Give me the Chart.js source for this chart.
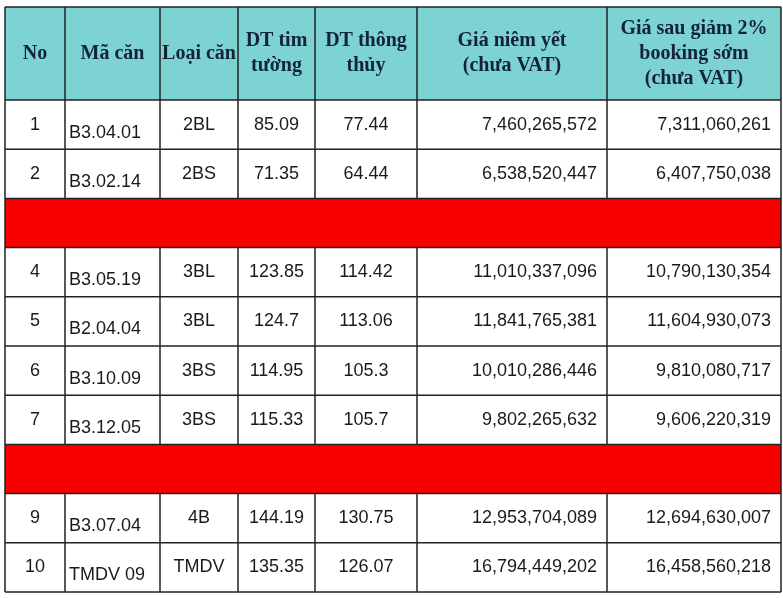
<!DOCTYPE html>
<html><head><meta charset="utf-8">
<script src="https://cdn.jsdelivr.net/npm/chart.js@4/dist/chart.umd.min.js"></script>
<style>html,body{margin:0;background:#fff}#wrap{width:783px;height:598px}</style>
</head><body><div id="wrap"><canvas id="tbl"></canvas></div>
<script>
const headers = [["No"], ["Mã căn"], ["Loại căn"], ["DT tim", "tường"], ["DT thông", "thủy"], ["Giá niêm yết", "(chưa VAT)"], ["Giá sau giảm 2%", "booking sớm", "(chưa VAT)"]];
const no = ["1", "2", "", "4", "5", "6", "7", "", "9", "10"];
const maCan = ["B3.04.01", "B3.02.14", "", "B3.05.19", "B2.04.04", "B3.10.09", "B3.12.05", "", "B3.07.04", "TMDV 09"];
const loaiCan = ["2BL", "2BS", "", "3BL", "3BL", "3BS", "3BS", "", "4B", "TMDV"];
const dtTimTuong = ["85.09", "71.35", "", "123.85", "124.7", "114.95", "115.33", "", "144.19", "135.35"];
const dtThongThuy = ["77.44", "64.44", "", "114.42", "113.06", "105.3", "105.7", "", "130.75", "126.07"];
const giaNiemYet = ["7,460,265,572", "6,538,520,447", "", "11,010,337,096", "11,841,765,381", "10,010,286,446", "9,802,265,632", "", "12,953,704,089", "16,794,449,202"];
const giaSauGiam = ["7,311,060,261", "6,407,750,038", "", "10,790,130,354", "11,604,930,073", "9,810,080,717", "9,606,220,319", "", "12,694,630,007", "16,458,560,218"];
const hiddenRows = [2, 7];

// layout (pixel units of the linear scales)
const colEdges = [5, 65, 160, 238, 315, 417, 607, 781];
const headTop = 7, headBottom = 100, rowH = 49.2;
const align = ["center", "left", "center", "center", "center", "right", "right"];
const cols = [no, maCan, loaiCan, dtTimTuong, dtThongThuy, giaNiemYet, giaSauGiam];

const tablePlugin = {
  id: "table",
  afterDraw(chart) {
    const c = chart.ctx, X = chart.scales.x, Y = chart.scales.y;
    const px = v => X.getPixelForValue(v), py = v => Y.getPixelForValue(v);
    const L = px(colEdges[0]), R = px(colEdges[colEdges.length - 1]);
    c.save();
    c.fillStyle = "#7dd2d2";
    c.fillRect(L, py(headTop), R - L, py(headBottom) - py(headTop));
    c.fillStyle = "#13233a";
    c.font = "bold 20px 'Liberation Serif', serif";
    c.textAlign = "center"; c.textBaseline = "middle";
    headers.forEach((h, i) => {
      const cx = (px(colEdges[i]) + px(colEdges[i + 1])) / 2;
      const mid = (py(headTop) + py(headBottom)) / 2;
      h.forEach((t, k) => c.fillText(t, cx, mid + (k - (h.length - 1) / 2) * 25));
    });
    const nRows = no.length;
    for (let r = 0; r < nRows; r++) {
      const t = py(headBottom + r * rowH), b = py(headBottom + (r + 1) * rowH);
      if (hiddenRows.includes(r)) {
        c.fillStyle = "#f80000";
        c.fillRect(L, t, R - L, b - t);
        continue;
      }
      c.fillStyle = "#1a1a1a";
      c.font = "18px 'Liberation Sans', Arial, sans-serif";
      cols.forEach((col, i) => {
        const x0 = px(colEdges[i]), x1 = px(colEdges[i + 1]);
        c.textAlign = align[i];
        const x = align[i] === "left" ? x0 + 4 : align[i] === "right" ? x1 - 10 : (x0 + x1) / 2;
        const y = i === 1 ? (t + b) / 2 + 8 : (t + b) / 2;
        c.fillText(col[r], x, y);
      });
    }
    // grid
    c.strokeStyle = "#222"; c.lineWidth = 1.5;
    c.beginPath();
    [headTop, headBottom].concat(no.map((_, r) => headBottom + (r + 1) * rowH)).forEach(v => {
      c.moveTo(L, py(v)); c.lineTo(R, py(v));
    });
    colEdges.forEach((e, i) => {
      for (let r = -1; r < nRows; r++) {
        const t = r < 0 ? py(headTop) : py(headBottom + r * rowH);
        const b = r < 0 ? py(headBottom) : py(headBottom + (r + 1) * rowH);
        if (r >= 0 && hiddenRows.includes(r) && i > 0 && i < colEdges.length - 1) continue;
        c.moveTo(px(e), t); c.lineTo(px(e), b);
      }
    });
    c.stroke();
    c.restore();
  }
};

new Chart(document.getElementById("tbl"), {
  type: "scatter",
  data: { datasets: [] },
  options: {
    responsive: true, maintainAspectRatio: false, animation: false,
    layout: { padding: 0 },
    scales: {
      x: { type: "linear", min: 0, max: 783, display: false },
      y: { type: "linear", min: 0, max: 598, reverse: true, display: false }
    },
    plugins: { legend: { display: false }, tooltip: { enabled: false } }
  },
  plugins: [tablePlugin]
});
</script></body></html>
